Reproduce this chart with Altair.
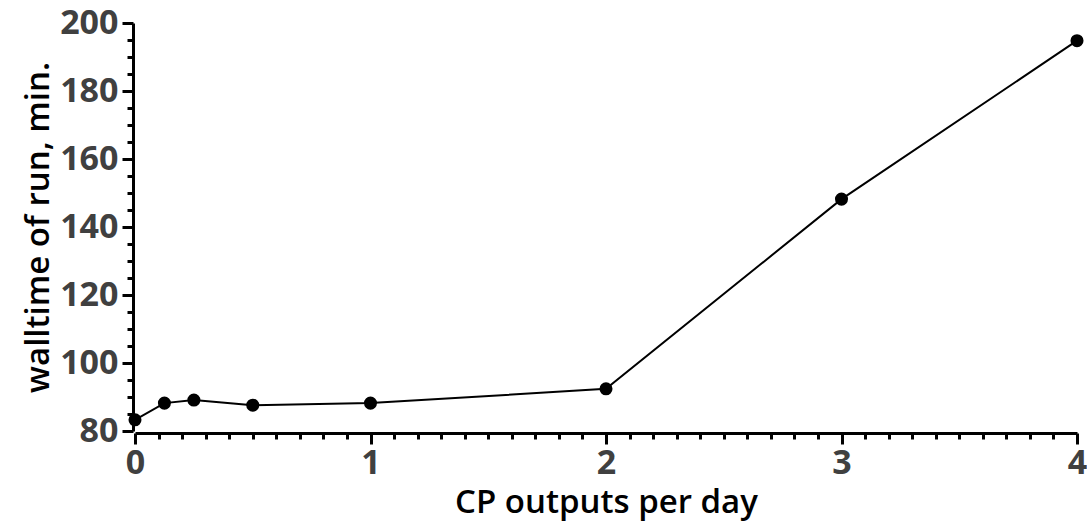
import altair as alt
import pandas as pd

cp_outputs = [0, 0.125, 0.25, 0.5, 1, 2, 3, 4]
walltime = [83.3, 88.2, 89.1, 87.6, 88.2, 92.4, 148.2, 194.8]

x_ticks = [round(i * 0.1, 1) for i in range(0, 41)]
y_ticks = list(range(80, 201, 5))

df = pd.DataFrame({"cp": cp_outputs, "wt": walltime})

FONT = "Open Sans"
LABEL_COLOR = "#404040"

x_axis = alt.Axis(
    title="CP outputs per day",
    values=x_ticks,
    labelExpr="abs(datum.value - round(datum.value)) < 1e-6 ? format(datum.value, 'd') : ''",
    tickSize={"condition": {"test": "abs(datum.value - round(datum.value)) < 1e-6", "value": 11}, "value": 6},
    tickWidth=3,
    tickColor="black",
    domainColor="black",
    domainWidth=3,
    grid=False,
    offset=2,
    labelFont=FONT,
    labelFontSize=34,
    labelFontWeight="bold",
    labelColor=LABEL_COLOR,
    labelPadding=2,
    labelFlush=False,
    labelOverlap=False,
    titleFont=FONT,
    titleFontSize=33,
    titleFontWeight=600,
    titleColor="black",
    titlePadding=6,
)

y_axis = alt.Axis(
    title="walltime of run, min.",
    values=y_ticks,
    labelExpr="datum.value % 20 === 0 ? datum.label : ''",
    tickSize={"condition": {"test": "datum.value % 20 === 0", "value": 11}, "value": 6},
    tickWidth=3,
    tickColor="black",
    domainColor="black",
    domainWidth=3,
    grid=False,
    offset=2,
    labelFont=FONT,
    labelFontSize=34,
    labelFontWeight="bold",
    labelColor=LABEL_COLOR,
    labelPadding=4,
    labelFlush=False,
    labelOverlap=False,
    titleFont=FONT,
    titleFontSize=33,
    titleFontWeight=600,
    titleColor="black",
    titlePadding=4,
)

base = alt.Chart(df).encode(
    x=alt.X("cp:Q", scale=alt.Scale(domain=[0, 4], nice=False, zero=False), axis=x_axis),
    y=alt.Y("wt:Q", scale=alt.Scale(domain=[80, 200], nice=False, zero=False), axis=y_axis),
)

line = base.mark_line(color="black", strokeWidth=2, clip=False)
pts = base.mark_circle(color="black", size=170, opacity=1, clip=False)

chart = (
    alt.layer(line, pts)
    .properties(
        width=942,
        height=408,
        autosize=alt.AutoSizeParams(type="none"),
        padding={"left": 135, "top": 23, "right": 10, "bottom": 94},
        background="white",
    )
    .configure_view(stroke=None)
)

chart.save("out.html", embed_options={"renderer": "svg", "actions": False})
